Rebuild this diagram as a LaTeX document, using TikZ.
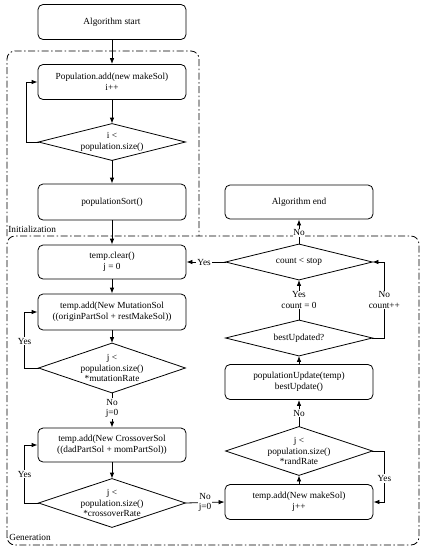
\documentclass[tikz,border=0pt]{standalone}
\usepackage{fontspec}
\setmainfont{Liberation Serif}
\usetikzlibrary{arrows.meta}
\begin{document}
\begin{tikzpicture}[x=1pt,y=-1pt,
  font=\fontsize{9.3}{10.8}\selectfont,
  every path/.style={line width=0.8pt},
  proc/.style={draw,rounded corners=5pt,minimum width=148pt,minimum height=35pt,align=center,inner sep=1pt},
  dec/.style={minimum width=146pt,align=center,inner sep=0pt},
  arr/.style={-{Latex[length=6pt,width=4.5pt]}},
  lbl/.style={fill=white,align=center,inner sep=1pt},
  grp/.style={dash pattern=on 7pt off 2.5pt on 1.5pt off 2.5pt,rounded corners=8pt}]
\useasboundingbox (0,0) rectangle (423,550);
% groups
\draw[grp] (7,236) -- (7,51) -- (199,51) -- (199,236);
\draw[grp] (7,545) rectangle (419,236);
\node[anchor=south west,inner sep=0pt] (initlbl) at (8,233) {Initialization};
\node[anchor=south west,inner sep=0pt] (genlbl) at (9,541) {Generation};
% left column
\node[proc] (start) at (112,22) {Algorithm start};
\node[proc] (popadd) at (112,82) {Population.add(new makeSol)\\i++};
\node[dec,minimum height=36pt] (d1) at (112,142) {i <\\population.size()};
\node[proc,minimum height=36pt] (sort) at (112,202) {populationSort()};
\node[proc,minimum height=34pt] (clear) at (112,262) {temp.clear()\\j = 0};
\node[proc,minimum height=36pt] (mut) at (112,312) {temp.add(New MutationSol\\((originPartSol + restMakeSol))};
\node[dec,minimum height=49pt] (d2) at (112,368) {j <\\population.size()\\*mutationRate};
\node[proc,minimum height=34pt] (cross) at (112,445) {temp.add(New CrossoverSol\\((dadPartSol + momPartSol))};
\node[dec,minimum height=48pt] (d3) at (112,503) {j <\\population.size()\\*crossoverRate};
% right column
\node[proc,minimum height=34pt] (end) at (299,202) {Algorithm end};
\node[dec,minimum height=35pt] (d4) at (299,262) {count < stop};
\node[dec,minimum height=35pt] (d5) at (299,338) {bestUpdated?};
\node[proc] (pupd) at (299,382) {populationUpdate(temp)\\bestUpdate()};
\node[dec,minimum height=48pt] (d6) at (299,451) {j <\\population.size()\\*randRate};
\node[proc] (mk) at (299,502) {temp.add(New makeSol)\\j++};
% diamonds
\foreach \d in {d1,d2,d3,d4,d5,d6}
  \draw (\d.north) -- (\d.east) -- (\d.south) -- (\d.west) -- cycle;
% connectors
\draw[arr] (start) -- (popadd);
\draw[arr] (popadd) -- (d1.north);
\draw[arr] (d1.west) -- ++(-12,0) |- (popadd.west);
\draw[arr] (d1.south) -- (sort);
\draw[arr] (sort) -- (clear);
\draw[arr] (clear) -- (mut);
\draw[arr] (mut) -- (d2.north);
\draw[arr] (d2.west) -- ++(-14,0) |- (mut.west) node[pos=0.24,lbl] (y2) {Yes};
\draw[arr] (d2.south) -- (cross.north) node[pos=0.45,lbl] (n2) {No\\j=0};
\draw[arr] (cross) -- (d3.north);
\draw[arr] (d3.west) -- ++(-14,0) |- (cross.west) node[pos=0.25,lbl] (y3) {Yes};
\draw[arr] (d3.east) -- (mk.west) node[midway,lbl] (n3) {No\\j=0};
\draw[arr] (mk) -- (d6.south);
\draw[arr] (d6.east) -- ++(12,0) |- (mk.east) node[pos=0.27,lbl] (y6) {Yes};
\draw[arr] (d6.north) -- (pupd.south) node[midway,lbl] (n6) {No};
\draw[arr] (pupd) -- (d5.south);
\draw[arr] (d5.north) -- (d4.south) node[midway,lbl] (y5) {Yes\\count = 0};
\draw[arr] (d5.east) -- ++(12,0) |- (d4.east) node[pos=0.25,lbl] (n5) {No\\count++};
\draw[arr] (d4.north) -- (end.south) node[pos=0.45,lbl,inner sep=0.5pt] (n4) {No};
\draw[arr] (d4.west) -- (clear.east) node[pos=0.55,lbl] (y4) {Yes};
\end{tikzpicture}
\end{document}
